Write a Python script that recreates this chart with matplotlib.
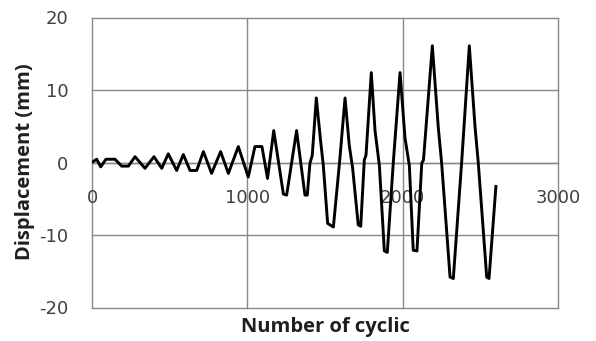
import matplotlib
matplotlib.use("Agg")
import matplotlib.pyplot as plt
from matplotlib.ticker import FixedLocator, FixedFormatter

# Displacement history (cycle number vs displacement in mm), vertices of the record
cycles = [
    0, 30, 56, 90, 148, 191, 234, 277, 341, 399, 449, 491, 545, 588, 631, 674,
    717, 770, 828, 878, 942, 1006, 1049, 1094, 1130, 1170, 1232, 1253, 1317,
    1371, 1386, 1403, 1418, 1444, 1472, 1489, 1517, 1554, 1595, 1629, 1656,
    1678, 1714, 1730, 1753, 1764, 1798, 1822, 1850, 1882, 1901, 1940, 1983,
    2015, 2043, 2068, 2092, 2123, 2134, 2191, 2229, 2251, 2305, 2326, 2380,
    2429, 2466, 2487, 2541, 2556, 2601,
]
displacement = [
    0.0, 0.45, -0.6, 0.45, 0.45, -0.5, -0.5, 0.8, -0.8, 0.8, -0.8, 1.2, -1.1,
    1.1, -1.1, -1.1, 1.5, -1.5, 1.5, -1.5, 2.2, -2.0, 2.2, 2.2, -2.2, 4.4,
    -4.35, -4.5, 4.4, -4.5, -4.5, -0.1, 1.0, 8.9, 2.9, -0.35, -8.4, -8.9,
    0.35, 8.9, 2.4, -0.8, -8.6, -8.8, 0.35, 1.0, 12.4, 4.4, -0.4, -12.2,
    -12.4, 0.1, 12.4, 3.4, -0.4, -12.1, -12.2, -0.1, 0.35, 16.1, 4.9, -0.1,
    -15.8, -16.0, 0.1, 16.1, 4.9, -0.1, -15.8, -16.0, -3.1,
]

x_ticks = [0, 1000, 2000, 3000]
x_tick_labels = ["0", "1000", "2000", "3000"]
y_ticks = [-20, -10, 0, 10, 20]
y_tick_labels = ["-20", "-10", "0", "10", "20"]

grid_color = "#898989"
tick_color = "#404040"
label_color = "#1f1f1f"

fig = plt.figure(figsize=(5.96, 3.41), dpi=100)
ax = fig.add_axes([92 / 596, 1 - 307.5 / 341, 466 / 596, 290 / 341])

ax.set_xlim(0, 3000)
ax.set_ylim(-20, 20)

# grid: every major line, including the frame edges
for xv in x_ticks:
    ax.axvline(xv, color=grid_color, lw=1.0, zorder=1, clip_on=False)
for yv in y_ticks:
    ax.axhline(yv, color=grid_color, lw=1.0, zorder=1, clip_on=False)

for side in ["top", "right", "left"]:
    ax.spines[side].set_visible(False)
ax.spines["bottom"].set_position(("data", 0))
ax.spines["bottom"].set_color(grid_color)
ax.spines["bottom"].set_linewidth(1.0)

ax.plot(cycles, displacement, color="black", lw=2.1, zorder=3,
        solid_joinstyle="round", solid_capstyle="butt")

ax.xaxis.set_major_locator(FixedLocator(x_ticks))
ax.xaxis.set_major_formatter(FixedFormatter(x_tick_labels))
ax.yaxis.set_major_locator(FixedLocator(y_ticks))
ax.yaxis.set_major_formatter(FixedFormatter(y_tick_labels))

ax.tick_params(axis="x", length=0, pad=19, labelsize=13, labelcolor=tick_color)
ax.tick_params(axis="y", length=0, pad=17, labelsize=13, labelcolor=tick_color)
for lbl in ax.get_xticklabels() + ax.get_yticklabels():
    lbl.set_fontfamily("DejaVu Sans")

fig.text(325 / 596, 1 - 332.3 / 341, "Number of cyclic", ha="center",
         va="baseline", fontsize=14.5, fontweight="bold", color=label_color,
         family="Open Sans")
fig.text(25 / 596, 1 - 161.7 / 341, "Displacement (mm)", ha="center",
         va="center", rotation=90, fontsize=14.5, fontweight="bold",
         color=label_color, family="Open Sans")

fig.savefig("out.png", dpi=100)
